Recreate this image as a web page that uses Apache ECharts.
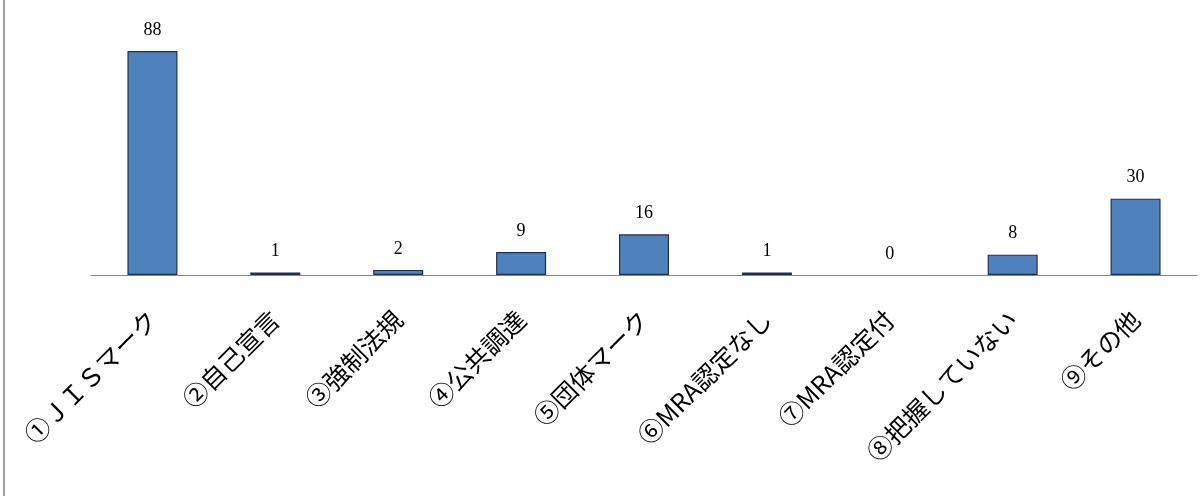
<!DOCTYPE html>
<html><head><meta charset="utf-8">
<script src="https://cdn.jsdelivr.net/npm/echarts@6/dist/echarts.min.js"></script>
<style>
html,body{margin:0;padding:0;background:#fff;}
#c{width:1202px;height:496px;position:relative;}
#frame{position:absolute;left:3px;top:0;width:2px;height:496px;background:#a0a0a0;}
</style></head>
<body><div id="c"></div><div id="frame"></div>
<script>
const categories = ['①ＪＩＳマーク','②自己宣言','③強制法規','④公共調達','⑤団体マーク','⑥MRA認定なし','⑦MRA認定付','⑧把握していない','⑨その他'];
const values = [88, 1, 2, 9, 16, 1, 0, 8, 30];

const chart = echarts.init(document.getElementById('c'));
chart.setOption({
  animation:false,
  backgroundColor:'#fff',
  grid:{left:91,right:5,top:20.5,bottom:221},
  xAxis:{type:'category',data:categories,
    axisLine:{lineStyle:{color:'#868686',width:1}},
    axisTick:{show:false},
    axisLabel:{rotate:45,interval:0,margin:40,color:'#000',fontSize:25,fontFamily:'"Noto Sans CJK JP", sans-serif'}},
  yAxis:{type:'value',min:0,max:100,show:false,splitLine:{show:false}},
  series:[{type:'bar',barWidth:50,
    data:values.map(v => ({value:v, itemStyle: v === 0 ? {borderWidth:0} : {}})),
    itemStyle:{color:'#4f81bd',borderColor:'#1f2f4f',borderWidth:1.2},
    label:{show:true,position:'top',distance:12,color:'#000',fontSize:18,fontFamily:'"Liberation Serif", "DejaVu Serif", serif'}}]
});
</script></body></html>
